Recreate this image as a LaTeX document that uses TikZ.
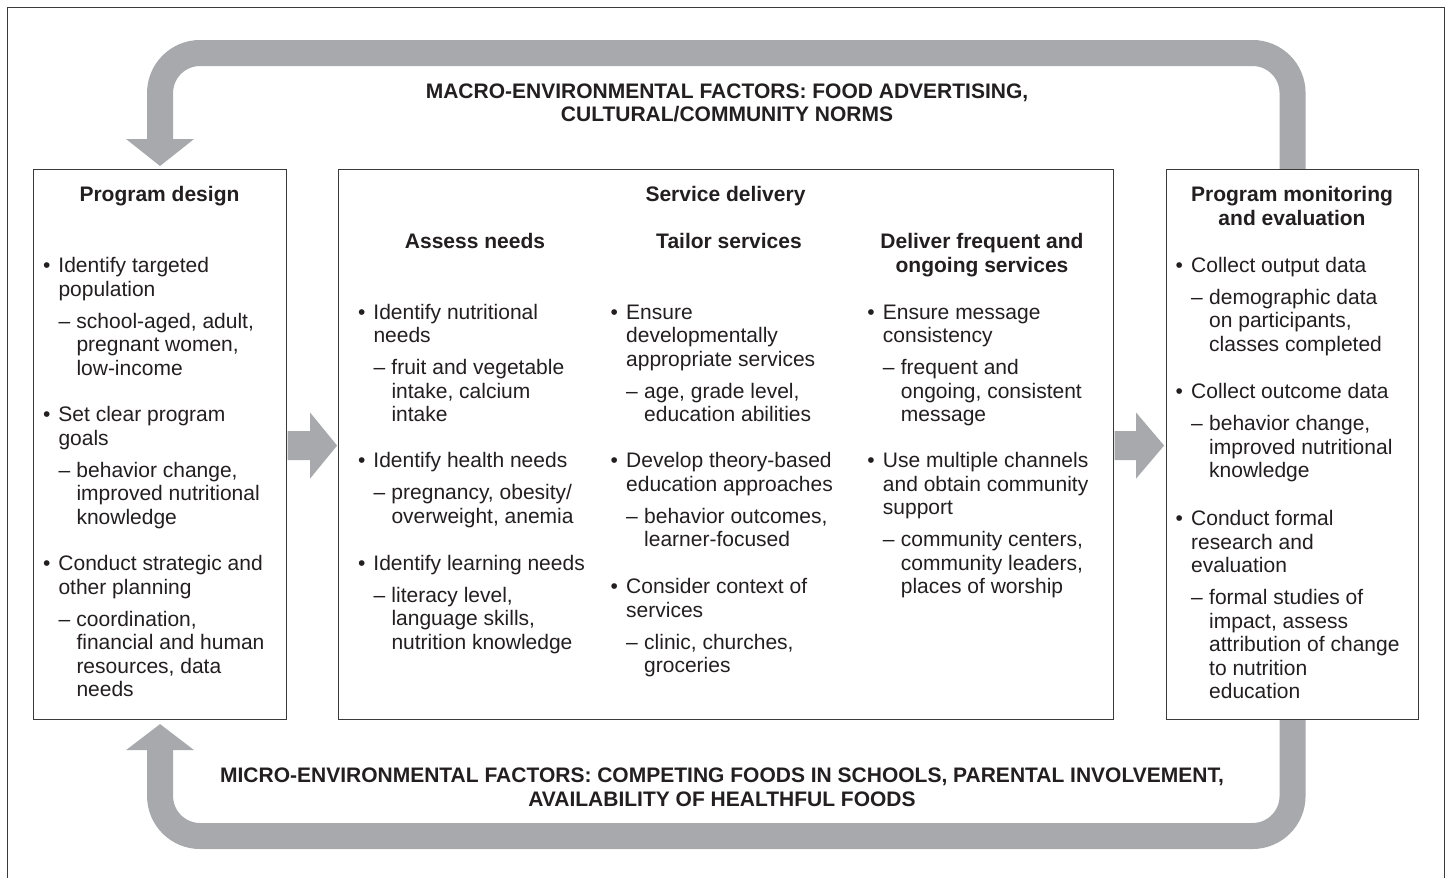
\documentclass[tikz,border=0pt]{standalone}
\usepackage{fontspec}
\setmainfont{Liberation Sans}
\usetikzlibrary{calc}
\definecolor{bandgray}{HTML}{A7A9AC}
\definecolor{ink}{HTML}{231F20}
\definecolor{edge}{HTML}{3A3A3A}
\pgfdeclarelayer{background}
\pgfsetlayers{background,main}
\newcommand{\bu}{\rule{0pt}{16pt}\makebox[15.5pt][l]{\textbullet}}
\newcommand{\ind}{\hspace*{15.5pt}}
\newcommand{\da}{\hspace*{15.5pt}\makebox[18pt][l]{–}}
\newcommand{\sind}{\hspace*{33.5pt}}
\newcommand{\hs}{\rule{0pt}{16pt}}
\begin{document}
\begin{tikzpicture}[x=1pt,y=-1pt,
  box/.style={draw=edge, line width=1.1pt, fill=white, anchor=north west, inner sep=0pt},
  band/.style={draw=bandgray, line width=26pt, rounded corners=40pt},
  tipfill/.style={fill=bandgray},
  txt/.style={anchor=north west, inner sep=0pt, align=left, text=ink, font=\fontsize{21}{23.5}\selectfont},
  head/.style={anchor=north, inner sep=0pt, align=center, text=ink, font=\fontsize{21}{23.5}\selectfont\bfseries}]
\useasboundingbox (0,0) rectangle (1449,878);
\draw[edge, line width=1pt] (7,878) -- (7,7) -- (1444,7) -- (1444,878);

% boxes
\node[box, minimum width=253pt, minimum height=550pt] (design) at (33,169) {};
\node[box, minimum width=775pt, minimum height=550pt] (serv) at (338,169) {};
\node[box, minimum width=252pt, minimum height=550pt] (mon) at (1166,169) {};

% feedback bands
\begin{pgfonlayer}{background}
\fill[white] (0,0) rectangle (1449,878);
\draw[band] (mon.north) -- (mon.north |- 0,53) -- (design.north |- 0,53) -- ($(design.north)+(0,-29.5)$);
\draw[band] (mon.south) -- (mon.south |- 0,836) -- (design.south |- 0,836) -- ($(design.south)+(0,29.5)$);
\end{pgfonlayer}
\fill[tipfill] ($(design.north)+(-34,-30)$) -- ($(design.north)+(34,-30)$) -- ($(design.north)+(0,-3)$) -- cycle;
\fill[tipfill] ($(design.south)+(-34,30)$) -- ($(design.south)+(34,30)$) -- ($(design.south)+(0,4)$) -- cycle;

% forward arrows
\fill[tipfill] ($(design.east)+(0.6,-13.5)$) -- ++(22.4,0) -- ++(0,-18.5) -- ++(27,33) -- ++(-27,33) -- ++(0,-18.5) -- ++(-22.4,0) -- cycle;
\fill[tipfill] ($(serv.east)+(0.6,-13.5)$) -- ++(21.4,0) -- ++(0,-18.5) -- ++(28,33) -- ++(-28,33) -- ++(0,-18.5) -- ++(-21.4,0) -- cycle;

% loop labels
\node[head] (macro) at (727,82) {\hs MACRO-ENVIRONMENTAL FACTORS: FOOD ADVERTISING,\\CULTURAL/COMMUNITY NORMS};
\node[head] (micro) at (722,766.7) {\hs MICRO-ENVIRONMENTAL FACTORS: COMPETING FOODS IN SCHOOLS, PARENTAL INVOLVEMENT,\\AVAILABILITY OF HEALTHFUL FOODS};

% headings
\node[head] (hdesign) at (159.5,185.3) {\hs Program design};
\node[head] (hserv) at (725.5,185.5) {\hs Service delivery};
\node[head] (hmon) at (1292,185.5) {\hs Program monitoring\\and evaluation};
\node[head] (hassess) at (475,232.3) {\hs Assess needs};
\node[head] (htailor) at (729,232.3) {\hs Tailor services};
\node[head] (hdeliver) at (982,232.3) {\hs Deliver frequent and\\ongoing services};

% program design
\node[txt] (d1) at (42.8,256.3) {\bu Identify targeted\\\ind population\\[8.5pt]\da school-aged, adult,\\\sind pregnant women,\\\sind low-income};
\node[txt] (d2) at (42.8,405.7) {\bu Set clear program\\\ind goals\\[8.5pt]\da behavior change,\\\sind improved nutritional\\\sind knowledge};
\node[txt] (d3) at (42.8,554.7) {\bu Conduct strategic and\\\ind other planning\\[8.5pt]\da coordination,\\\sind financial and human\\\sind resources, data\\\sind needs};

% assess needs
\node[txt] (a1) at (357.8,303) {\bu Identify nutritional\\\ind needs\\[8.5pt]\da fruit and vegetable\\\sind intake, calcium\\\sind intake};
\node[txt] (a2) at (357.8,451.7) {\bu Identify health needs\\[8.5pt]\da pregnancy, obesity/\\\sind overweight, anemia};
\node[txt] (a3) at (357.8,554) {\bu Identify learning needs\\[8.5pt]\da literacy level,\\\sind language skills,\\\sind nutrition knowledge};

% tailor services
\node[txt] (t1) at (610.5,303) {\bu Ensure\\\ind developmentally\\\ind appropriate services\\[8.5pt]\da age, grade level,\\\sind education abilities};
\node[txt] (t2) at (610.5,451.7) {\bu Develop theory-based\\\ind education approaches\\[8.5pt]\da behavior outcomes,\\\sind learner-focused};
\node[txt] (t3) at (610.5,577.3) {\bu Consider context of\\\ind services\\[8.5pt]\da clinic, churches,\\\sind groceries};

% deliver services
\node[txt] (s1) at (867.2,303) {\bu Ensure message\\\ind consistency\\[8.5pt]\da frequent and\\\sind ongoing, consistent\\\sind message};
\node[txt] (s2) at (867.2,451.7) {\bu Use multiple channels\\\ind and obtain community\\\ind support\\[8.5pt]\da community centers,\\\sind community leaders,\\\sind places of worship};

% monitoring
\node[txt] (m1) at (1175.5,255.8) {\bu Collect output data\\[8.5pt]\da demographic data\\\sind on participants,\\\sind classes completed};
\node[txt] (m2) at (1175.5,382.6) {\bu Collect outcome data\\[8.5pt]\da behavior change,\\\sind improved nutritional\\\sind knowledge};
\node[txt] (m3) at (1175.5,509.6) {\bu Conduct formal\\\ind research and\\\ind evaluation\\[8.5pt]\da formal studies of\\\sind impact, assess\\\sind attribution of change\\\sind to nutrition\\\sind education};
\end{tikzpicture}
\end{document}
